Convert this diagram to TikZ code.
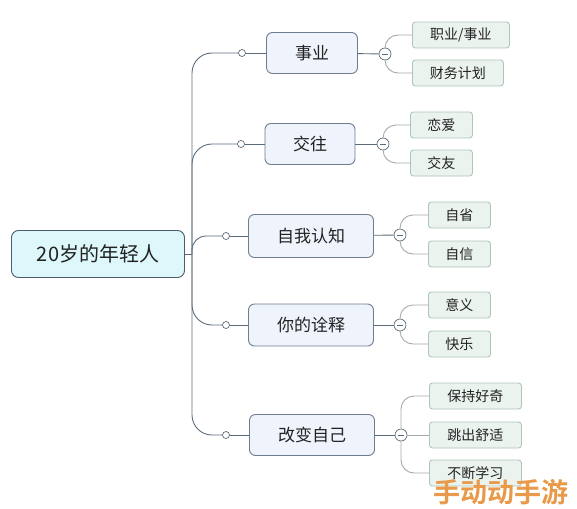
\documentclass[tikz,border=0pt]{standalone}
\usepackage{fontspec}
\setmainfont{Noto Sans CJK SC}
\newfontfamily\wmfont{Noto Sans CJK SC Bold}
\definecolor{rootfill}{HTML}{DDF7FA}
\definecolor{rootdraw}{HTML}{4E5D6C}
\definecolor{onefill}{HTML}{EEF3FC}
\definecolor{onedraw}{HTML}{6E7E90}
\definecolor{twofill}{HTML}{EBF3EE}
\definecolor{twodraw}{HTML}{AFC5B8}
\definecolor{trunkcol}{HTML}{5A6B7B}
\definecolor{leafline}{HTML}{A2ABAA}
\definecolor{txt}{HTML}{222222}
\definecolor{wm}{HTML}{E89A4A}
\tikzset{
  rootbox/.style={draw=rootdraw, fill=rootfill, rounded corners=7pt, line width=0.9pt,
    minimum width=173pt, minimum height=47pt, font=\fontsize{20}{23}\selectfont, text=txt},
  onebox/.style={draw=onedraw, fill=onefill, rounded corners=6pt, line width=0.9pt,
    minimum height=41pt, font=\fontsize{17}{20}\selectfont, text=txt},
  twobox/.style={draw=twodraw, fill=twofill, rounded corners=3pt, line width=0.9pt,
    minimum height=26pt, anchor=west, font=\fontsize{14}{16}\selectfont, text=txt},
  knob/.style={circle, draw=trunkcol, fill=white, line width=0.7pt, minimum size=7pt, inner sep=0pt},
  fold/.style={circle, draw=trunkcol, fill=white, line width=0.7pt, minimum size=12pt, inner sep=0pt,
    path picture={\draw[line width=0.9pt, trunkcol] ([xshift=-3pt]path picture bounding box.center) -- ([xshift=3pt]path picture bounding box.center);}},
  trunk/.style={draw=trunkcol, line width=0.9pt},
  leaf/.style={draw=leafline, line width=0.9pt, rounded corners=13pt},
}
\begin{document}
\begin{tikzpicture}[x=1pt, y=-1pt]
\useasboundingbox (0,0) rectangle (577,508);
% root
\node[rootbox] (root) at (98,254) {20岁的年轻人};
\coordinate (tr) at (192,254);
% level 1
\node[onebox, minimum width=91pt] (n1) at (312,53) {事业};
\node[onebox, minimum width=90pt] (n2) at (310,144) {交往};
\node[onebox, minimum width=125pt, minimum height=43pt] (n3) at (311,236) {自我认知};
\node[onebox, minimum width=125pt, minimum height=42pt] (n4) at (311,325) {你的诠释};
\node[onebox, minimum width=125pt] (n5) at (312,435) {改变自己};
% small knobs
\node[knob] (k1) at (242,53) {};
\node[knob] (k2) at (241,144) {};
\node[knob] (k3) at (226,236) {};
\node[knob] (k4) at (226,325) {};
\node[knob] (k5) at (226,435) {};
% fold circles
\node[fold] (f1) at (385,54) {};
\node[fold] (f2) at (383,144) {};
\node[fold] (f3) at (400,235) {};
\node[fold] (f4) at (400,325) {};
\node[fold] (f5) at (401,435) {};
% level 2
\node[twobox, minimum width=97pt] (a1) at (412,35) {职业/事业};
\node[twobox, minimum width=91pt] (a2) at (412,73) {财务计划};
\node[twobox, minimum width=62pt] (b1) at (410,125) {恋爱};
\node[twobox, minimum width=62pt] (b2) at (410,163) {交友};
\node[twobox, minimum width=62pt] (c1) at (428,215) {自省};
\node[twobox, minimum width=62pt] (c2) at (428,254) {自信};
\node[twobox, minimum width=62pt] (d1) at (428,305) {意义};
\node[twobox, minimum width=62pt] (d2) at (428,344) {快乐};
\node[twobox, minimum width=92pt] (e1) at (429,396) {保持好奇};
\node[twobox, minimum width=92pt] (e2) at (429,435) {跳出舒适};
\node[twobox, minimum width=92pt] (e3) at (429,473) {不断学习};
% trunk connectors
\draw[trunk] (root.east) -- (tr);
\draw[trunk, rounded corners=20pt] (tr) |- (k1.west);
\draw[trunk, rounded corners=20pt] (tr) |- (k2.west);
\draw[trunk, rounded corners=14pt] (tr) |- (k3.west);
\draw[trunk, rounded corners=20pt] (tr) |- (k4.west);
\draw[trunk, rounded corners=20pt] (tr) |- (k5.west);
\draw[trunk] (k1) -- (n1);
\draw[trunk] (k2) -- (n2);
\draw[trunk] (k3) -- (n3);
\draw[trunk] (k4) -- (n4);
\draw[trunk] (k5) -- (n5);
\draw[trunk] (n1) -- (f1);
\draw[trunk] (n2) -- (f2);
\draw[trunk] (n3) -- (f3);
\draw[trunk] (n4) -- (f4);
\draw[trunk] (n5) -- (f5);
% leaf connectors
\draw[leaf] (f1.north) |- (a1.west);
\draw[leaf] (f1.south) |- (a2.west);
\draw[leaf] (f2.north) |- (b1.west);
\draw[leaf] (f2.south) |- (b2.west);
\draw[leaf] (f3.north) |- (c1.west);
\draw[leaf] (f3.south) |- (c2.west);
\draw[leaf] (f4.north) |- (d1.west);
\draw[leaf] (f4.south) |- (d2.west);
\draw[leaf] (f5.north) |- (e1.west);
\draw[leaf] (f5.east) -- (e2.west);
\draw[leaf] (f5.south) |- (e3.west);
% watermark
\node[text=wm, font=\wmfont\fontsize{27}{29}\selectfont, inner sep=0pt] (wmk) at (501,492) {手动动手游};
\end{tikzpicture}
\end{document}
